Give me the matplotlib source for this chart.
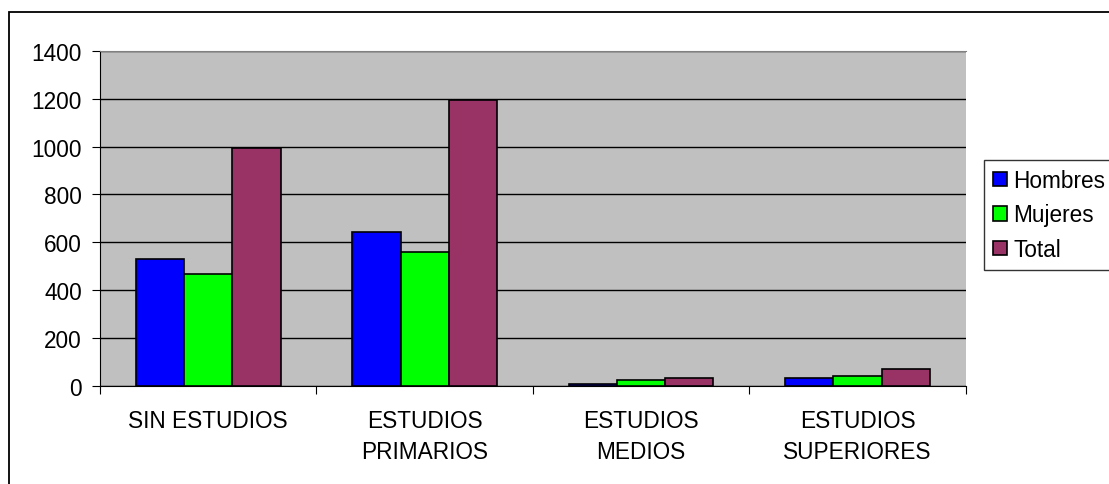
import matplotlib
matplotlib.use("Agg")
import matplotlib.pyplot as plt
import numpy as np
from matplotlib.patches import Rectangle

categories = ["SIN ESTUDIOS", "ESTUDIOS\nPRIMARIOS", "ESTUDIOS\nMEDIOS", "ESTUDIOS\nSUPERIORES"]
series_names = ["Hombres", "Mujeres", "Total"]
hombres = [528, 642, 6, 31]
mujeres = [465, 560, 24, 38]
total = [993, 1193, 31, 69]
yticks = [0, 200, 400, 600, 800, 1000, 1200, 1400]

colors = ["#0000FF", "#00FF00", "#993366"]

plt.rcParams['font.family'] = ['Liberation Sans', 'DejaVu Sans']
FS = 16.3

W, H = 1109, 485
fig = plt.figure(figsize=(W / 100, H / 100), dpi=100)
ax = fig.add_axes([100 / W, 1 - 386.5 / H, (965.7 - 100) / W, (386.5 - 52) / H])
ax.set_facecolor("#C0C0C0")

x = np.arange(len(categories))
bw = 0.223
for i, (vals, c, name) in enumerate(zip([hombres, mujeres, total], colors, series_names)):
    ax.bar(x + (i - 1) * bw, vals, width=bw, color=c, edgecolor="black", linewidth=1.2,
           label=name, zorder=3)

ax.set_xlim(-0.5, len(categories) - 0.5)
ax.set_ylim(0, 1400)
ax.set_yticks(yticks)
ax.set_yticklabels([str(v) for v in yticks], fontsize=FS)
ax.yaxis.grid(True, color="black", linewidth=1.0, zorder=1)
ax.set_axisbelow(True)
ax.set_xticks(np.arange(len(categories) + 1) - 0.5, minor=False)
ax.set_xticklabels([""] * (len(categories) + 1))
ax.set_xticks(x, minor=True)
ax.set_xticklabels(categories, minor=True, fontsize=FS, linespacing=1.45)
ax.tick_params(axis='x', which='minor', length=0, pad=17)
ax.tick_params(axis='x', which='major', length=6, direction='out', color='black')
ax.tick_params(axis='y', length=6, direction='out', pad=7)
ax.spines["top"].set_color("#808080")
ax.spines["right"].set_visible(False)
ax.spines["left"].set_color("black")
ax.spines["bottom"].set_color("black")

# figure border
fig.patches.append(Rectangle((9 / W, -0.1), 2.0, 1 - 13 / H + 0.1, transform=fig.transFigure,
                             fill=False, edgecolor="black", linewidth=1.3))

leg = fig.legend(loc="upper left", bbox_to_anchor=(984 / W, 1 - 161 / H), fontsize=FS,
                 frameon=True, fancybox=False, edgecolor="black", handlelength=0.6,
                 handleheight=0.6, handletextpad=0.3, borderpad=0.4, labelspacing=0.5,
                 borderaxespad=0)
leg.get_frame().set_linewidth(1.0)

fig.savefig("out.png", dpi=100)
